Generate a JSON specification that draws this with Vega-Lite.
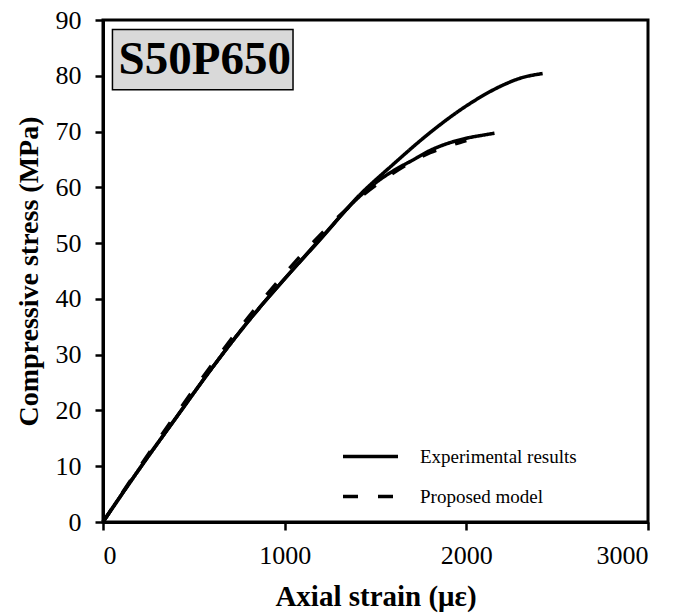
{
  "$schema": "https://vega.github.io/schema/vega-lite/v6.json",
  "width": 545,
  "height": 502,
  "autosize": {"type": "none"},
  "padding": {"left": 103, "top": 20, "right": 44, "bottom": 93},
  "background": "white",
  "config": {
    "view": {"stroke": "black", "strokeWidth": 3},
    "axis": {
      "grid": false,
      "labelFont": "Liberation Serif",
      "labelFontSize": 26,
      "labelColor": "black",
      "titleFont": "Liberation Serif",
      "titleFontSize": 28,
      "titleFontWeight": "bold",
      "titleColor": "black",
      "domainColor": "black",
      "domainWidth": 3,
      "tickColor": "black",
      "tickWidth": 2.5,
      "tickSize": 8
    }
  },
  "datasets": {
    "curves": [
      {"curve": "E1", "series": "Experimental results", "strain": 0, "stress": 0},
      {"curve": "E1", "series": "Experimental results", "strain": 100, "stress": 4.8},
      {"curve": "E1", "series": "Experimental results", "strain": 200, "stress": 9.5},
      {"curve": "E1", "series": "Experimental results", "strain": 400, "stress": 18.6},
      {"curve": "E1", "series": "Experimental results", "strain": 600, "stress": 27.6},
      {"curve": "E1", "series": "Experimental results", "strain": 800, "stress": 36.0},
      {"curve": "E1", "series": "Experimental results", "strain": 1000, "stress": 43.6},
      {"curve": "E1", "series": "Experimental results", "strain": 1200, "stress": 50.8},
      {"curve": "E1", "series": "Experimental results", "strain": 1400, "stress": 58.2},
      {"curve": "E1", "series": "Experimental results", "strain": 1600, "stress": 64.2},
      {"curve": "E1", "series": "Experimental results", "strain": 1800, "stress": 69.8},
      {"curve": "E1", "series": "Experimental results", "strain": 2000, "stress": 74.6},
      {"curve": "E1", "series": "Experimental results", "strain": 2200, "stress": 78.3},
      {"curve": "E1", "series": "Experimental results", "strain": 2300, "stress": 79.6},
      {"curve": "E1", "series": "Experimental results", "strain": 2420, "stress": 80.4},
      {"curve": "E2", "series": "Experimental results", "strain": 0, "stress": 0},
      {"curve": "E2", "series": "Experimental results", "strain": 100, "stress": 4.8},
      {"curve": "E2", "series": "Experimental results", "strain": 200, "stress": 9.5},
      {"curve": "E2", "series": "Experimental results", "strain": 400, "stress": 18.6},
      {"curve": "E2", "series": "Experimental results", "strain": 600, "stress": 27.6},
      {"curve": "E2", "series": "Experimental results", "strain": 800, "stress": 36.0},
      {"curve": "E2", "series": "Experimental results", "strain": 1000, "stress": 43.6},
      {"curve": "E2", "series": "Experimental results", "strain": 1200, "stress": 50.9},
      {"curve": "E2", "series": "Experimental results", "strain": 1400, "stress": 58.0},
      {"curve": "E2", "series": "Experimental results", "strain": 1500, "stress": 60.8},
      {"curve": "E2", "series": "Experimental results", "strain": 1600, "stress": 63.0},
      {"curve": "E2", "series": "Experimental results", "strain": 1700, "stress": 64.8},
      {"curve": "E2", "series": "Experimental results", "strain": 1800, "stress": 66.6},
      {"curve": "E2", "series": "Experimental results", "strain": 1900, "stress": 67.9},
      {"curve": "E2", "series": "Experimental results", "strain": 2000, "stress": 68.8},
      {"curve": "E2", "series": "Experimental results", "strain": 2100, "stress": 69.4},
      {"curve": "E2", "series": "Experimental results", "strain": 2155, "stress": 69.7},
      {"curve": "M", "series": "Proposed model", "strain": 0, "stress": 0},
      {"curve": "M", "series": "Proposed model", "strain": 200, "stress": 9.8},
      {"curve": "M", "series": "Proposed model", "strain": 400, "stress": 19.2},
      {"curve": "M", "series": "Proposed model", "strain": 600, "stress": 28.2},
      {"curve": "M", "series": "Proposed model", "strain": 800, "stress": 36.7},
      {"curve": "M", "series": "Proposed model", "strain": 1000, "stress": 44.5},
      {"curve": "M", "series": "Proposed model", "strain": 1200, "stress": 51.6},
      {"curve": "M", "series": "Proposed model", "strain": 1400, "stress": 57.8},
      {"curve": "M", "series": "Proposed model", "strain": 1600, "stress": 62.6},
      {"curve": "M", "series": "Proposed model", "strain": 1800, "stress": 66.2},
      {"curve": "M", "series": "Proposed model", "strain": 1900, "stress": 67.4},
      {"curve": "M", "series": "Proposed model", "strain": 2000, "stress": 68.4}
    ],
    "label": [
      {"name": "S50P650"}
    ]
  },
  "layer": [
    {
      "data": {"name": "curves"},
      "mark": {"type": "line", "color": "black", "strokeWidth": 3.5, "interpolate": "monotone"},
      "encoding": {
        "x": {
          "field": "strain", "type": "quantitative",
          "scale": {"domain": [0, 3000], "nice": false},
          "axis": {"values": [0, 1000, 2000, 3000], "format": "d", "title": "Axial strain (με)", "labelPadding": 12, "titlePadding": 14, "titleFontSize": 29}
        },
        "y": {
          "field": "stress", "type": "quantitative",
          "scale": {"domain": [0, 90], "nice": false},
          "axis": {"values": [0, 10, 20, 30, 40, 50, 60, 70, 80, 90], "title": "Compressive stress (MPa)", "labelPadding": 14, "titlePadding": 12}
        },
        "detail": {"field": "curve"},
        "strokeDash": {
          "field": "series", "type": "nominal",
          "scale": {"domain": ["Experimental results", "Proposed model"], "range": [[1, 0], [15, 20]]},
          "legend": {
            "title": null,
            "orient": "none",
            "legendX": 238,
            "legendY": 407,
            "symbolType": "stroke",
            "symbolSize": 3025,
            "symbolStrokeWidth": 3.5,
            "symbolStrokeColor": "black",
            "labelFont": "Liberation Serif",
            "labelFontSize": 19,
            "labelColor": "black",
            "labelOffset": 20,
            "rowPadding": -20,
            "padding": 0
          }
        }
      }
    },
    {
      "data": {"name": "label"},
      "mark": {"type": "rect", "fill": "#d9d9d9", "stroke": "black", "strokeWidth": 1.5},
      "encoding": {
        "x": {"datum": 52, "type": "quantitative"},
        "x2": {"datum": 1046},
        "y": {"datum": 88.3, "type": "quantitative"},
        "y2": {"datum": 77.5}
      }
    },
    {
      "data": {"name": "label"},
      "mark": {"type": "text", "font": "Liberation Serif", "fontWeight": "bold", "fontSize": 47, "color": "black", "align": "center", "baseline": "middle"},
      "encoding": {
        "x": {"datum": 560, "type": "quantitative"},
        "y": {"datum": 82.9, "type": "quantitative"},
        "text": {"field": "name"}
      }
    }
  ]
}
